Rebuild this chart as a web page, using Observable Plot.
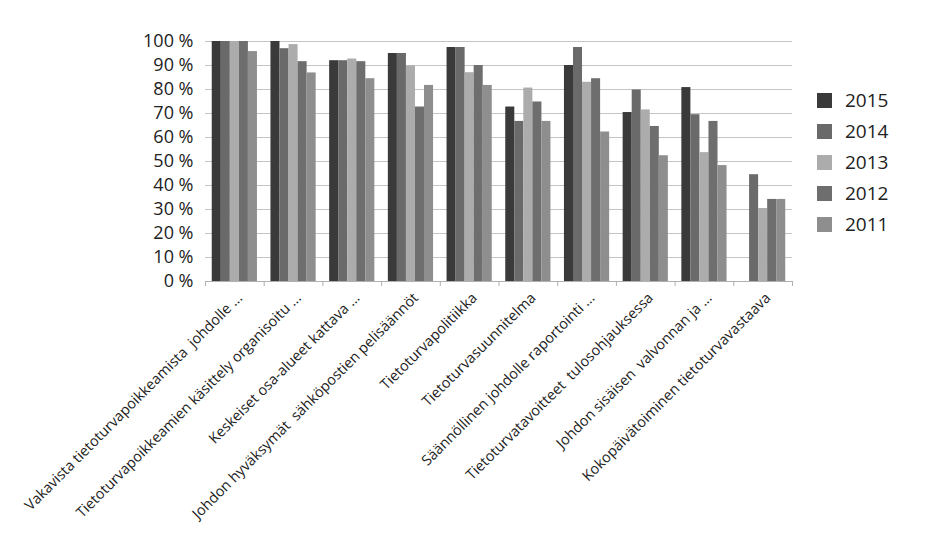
<!DOCTYPE html>
<html><head><meta charset="utf-8">
<script src="https://cdn.jsdelivr.net/npm/d3@7"></script>
<script src="https://cdn.jsdelivr.net/npm/@observablehq/plot@0.6"></script>
<style>
body{margin:0;background:#fff;}
#wrap{position:relative;width:933px;height:557px;font-family:"Open Sans",sans-serif;background:#fff;}
#legend{position:absolute;left:817px;top:85px;}
.item{display:flex;align-items:center;height:31px;}
.sw{width:15px;height:15px;margin-right:13px;}
.lab{font-size:19px;color:#222;line-height:15px;}
</style></head><body><div id="wrap"></div>
<script>
const categories = [
  "Vakavista tietoturvapoikkeamista  johdolle ...",
  "Tietoturvapoikkeamien käsittely organisoitu ...",
  "Keskeiset osa-alueet kattava ...",
  "Johdon hyväksymät  sähköpostien pelisäännöt",
  "Tietoturvapolitiikka",
  "Tietoturvasuunnitelma",
  "Säännöllinen johdolle raportointi ...",
  "Tietoturvatavoitteet  tulosohjauksessa",
  "Johdon sisäisen  valvonnan ja ...",
  "Kokopäivätoiminen tietoturvavastaava"
];
const years = ["2015", "2014", "2013", "2012", "2011"];
const v2015 = [100, 100, 92, 95, 97.5, 72.7, 90, 70.4, 80.8, null];
const v2014 = [100, 97, 92, 95, 97.5, 66.7, 97.5, 79.8, 69.5, 44.5];
const v2013 = [100, 98.7, 92.7, 89.8, 87, 80.6, 83, 71.5, 53.7, 30.4];
const v2012 = [100, 91.6, 91.6, 72.7, 90, 74.8, 84.5, 64.6, 66.7, 34.2];
const v2011 = [95.8, 86.9, 84.5, 81.7, 81.7, 66.7, 62.3, 52.4, 48.3, 34.2];
const yTicks = [0, 10, 20, 30, 40, 50, 60, 70, 80, 90, 100];
const colors = ["#3a3a3a", "#6a6a6a", "#acacac", "#6e6e6e", "#8e8e8e"];

const series = [v2015, v2014, v2013, v2012, v2011];
const W = 933, H = 557, ML = 205, MR = 141, MT = 41, MB = 276;
const step = (W - ML - MR) / categories.length;
const groupFrac = 0.77;
const barW = step * groupFrac / years.length;

const barMarks = years.map((yr, j) => {
  const data = categories.map((c, i) => ({category: c, year: yr, value: series[j][i]}))
    .filter(d => d.value != null);
  const insetLeft = step * (1 - groupFrac) / 2 + j * barW;
  const insetRight = step - insetLeft - barW;
  return Plot.barY(data, {x: "category", y: "value", fill: "year", insetLeft, insetRight});
});

const chart = Plot.plot({
  width: W, height: H,
  marginLeft: ML, marginRight: MR, marginTop: MT, marginBottom: MB,
  style: {fontFamily: "'Open Sans', sans-serif", background: "white", color: "#222"},
  x: {domain: categories, padding: 0, round: false, label: null},
  y: {domain: [0, 100], label: null},
  color: {domain: years, range: colors},
  marks: [
    Plot.gridY(yTicks, {stroke: "#c4c4c4", strokeOpacity: 1}),
    ...barMarks,
    Plot.ruleY([0], {stroke: "#b0b0b0"}),
    Plot.ruleX(categories, {x: d => d, y1: 0, y2: 0, dx: -step / 2, insetBottom: -5, stroke: "#b0b0b0"}),
    Plot.ruleX(categories.slice(-1), {x: d => d, y1: 0, y2: 0, dx: step / 2, insetBottom: -5, stroke: "#b0b0b0"}),
    Plot.axisY({ticks: yTicks, tickFormat: d => `${d} %`, tickSize: 0, tickPadding: 12, fontSize: 18, label: null}),
    Plot.axisX({tickRotate: -45, tickSize: 0, tickPadding: 14, dx: 5, fontSize: 14.5, label: null})
  ]
});

const wrap = document.getElementById("wrap");
wrap.appendChild(chart);
const legend = document.createElement("div");
legend.id = "legend";
years.forEach((yr, j) => {
  const it = document.createElement("div");
  it.className = "item";
  it.innerHTML = `<div class="sw" style="background:${colors[j]}"></div><div class="lab">${yr}</div>`;
  legend.appendChild(it);
});
wrap.appendChild(legend);
</script></body></html>
